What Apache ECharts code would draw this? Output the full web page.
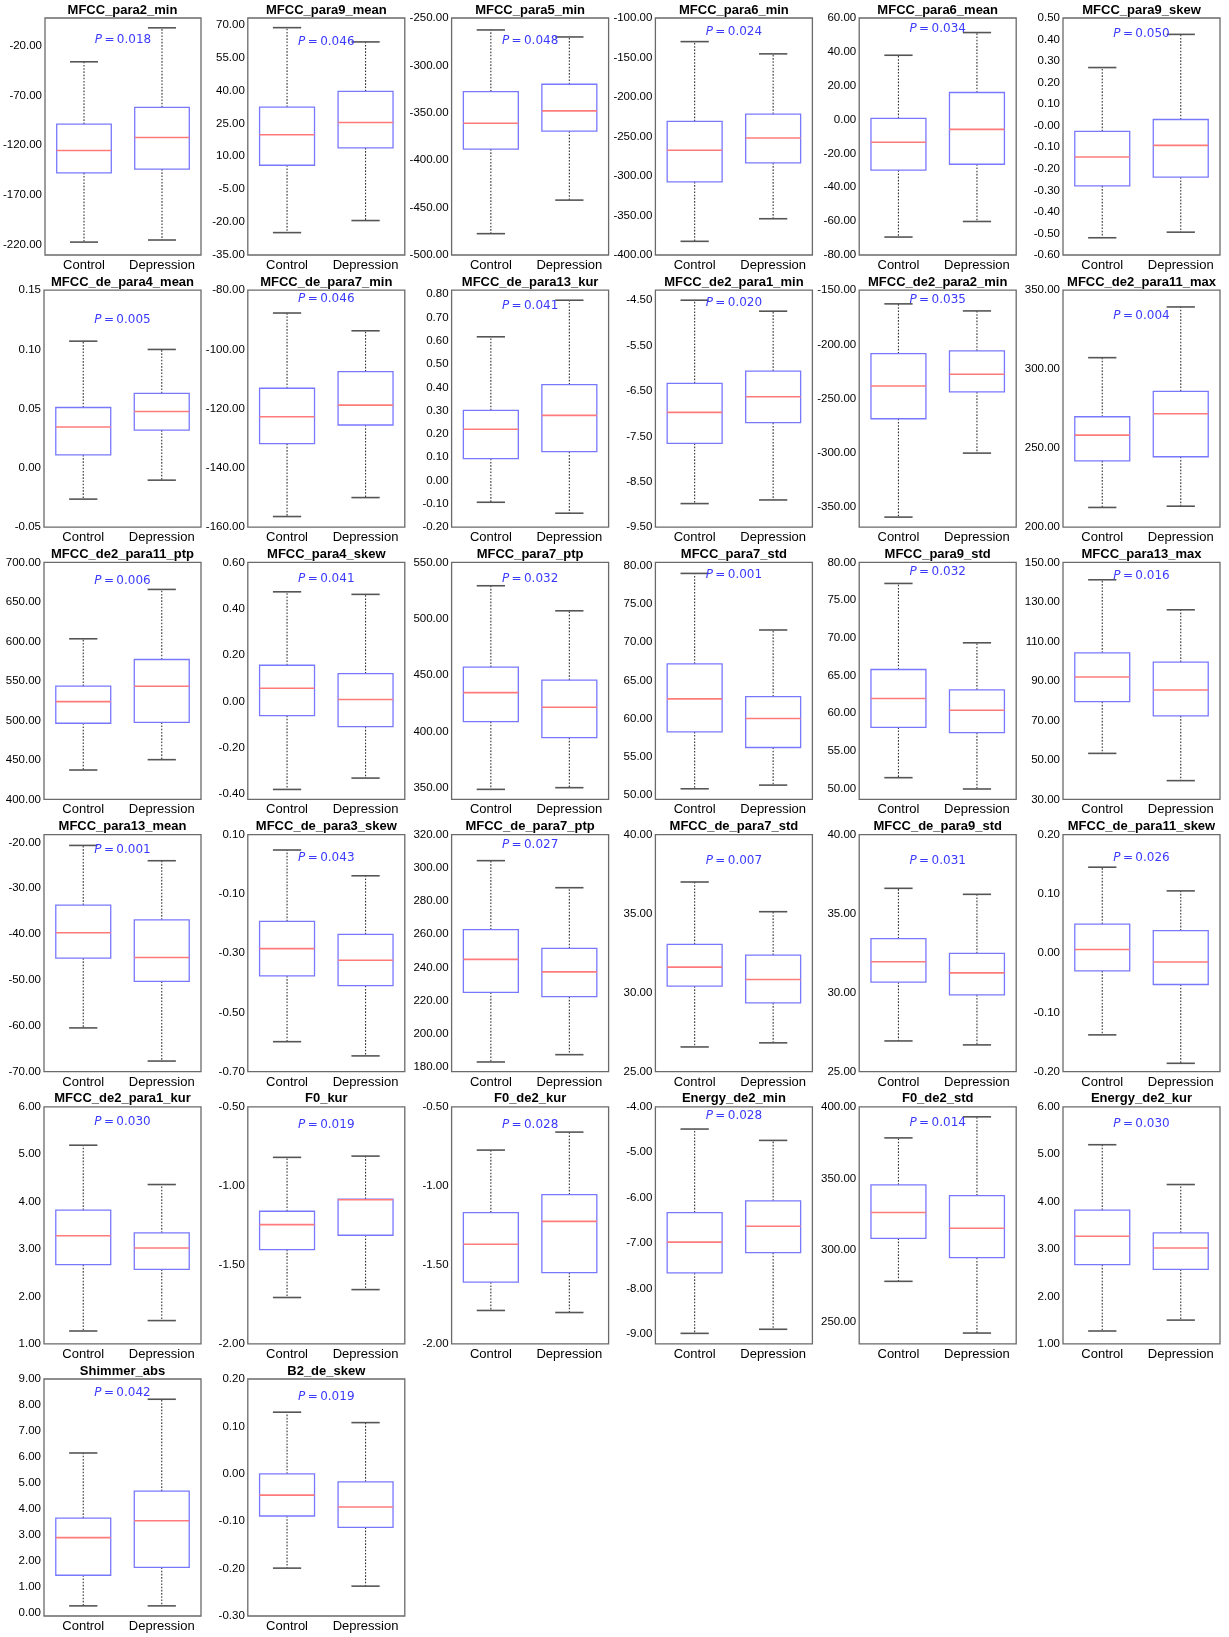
<!DOCTYPE html>
<html>
<head>
<meta charset="utf-8">
<script src="https://cdn.jsdelivr.net/npm/echarts@6/dist/echarts.min.js"></script>
<style>
  html, body { margin: 0; padding: 0; background: #fff; }
  #container { width: 1229px; height: 1637px; }
</style>
</head>
<body>
<div id="container"></div>
<script>
const categories = ['Control', 'Depression'];

const titles = [
  'MFCC_para2_min', 'MFCC_para9_mean', 'MFCC_para5_min', 'MFCC_para6_min', 'MFCC_para6_mean', 'MFCC_para9_skew',
  'MFCC_de_para4_mean', 'MFCC_de_para7_min', 'MFCC_de_para13_kur', 'MFCC_de2_para1_min', 'MFCC_de2_para2_min', 'MFCC_de2_para11_max',
  'MFCC_de2_para11_ptp', 'MFCC_para4_skew', 'MFCC_para7_ptp', 'MFCC_para7_std', 'MFCC_para9_std', 'MFCC_para13_max',
  'MFCC_para13_mean', 'MFCC_de_para3_skew', 'MFCC_de_para7_ptp', 'MFCC_de_para7_std', 'MFCC_de_para9_std', 'MFCC_de_para11_skew',
  'MFCC_de2_para1_kur', 'F0_kur', 'F0_de2_kur', 'Energy_de2_min', 'F0_de2_std', 'Energy_de2_kur',
  'Shimmer_abs', 'B2_de_skew'
];

const pValues = [
  '0.018', '0.046', '0.048', '0.024', '0.034', '0.050',
  '0.005', '0.046', '0.041', '0.020', '0.035', '0.004',
  '0.006', '0.041', '0.032', '0.001', '0.032', '0.016',
  '0.001', '0.043', '0.027', '0.007', '0.031', '0.026',
  '0.030', '0.019', '0.028', '0.028', '0.014', '0.030',
  '0.042', '0.019'
];

// where the P annotation sits, in data units of each panel
const pLabelY = [
  -14, 62, -274, -118, 53.5, 0.426,
  0.125, -82.9, 0.748, -4.57, -159.2, 333.9,
  676, 0.527, 535.5, 78.8, 78.8, 143.2,
  -21.7, 0.021, 313.8, 38.35, 38.35, 0.160,
  5.68, -0.612, -0.612, -4.21, 389.1, 5.63,
  8.45, 0.163
];

const yMin = [
  -230.7, -35, -500, -400, -80, -0.6,
  -0.05, -160, -0.2, -9.5, -368.5, 200,
  400, -0.423, 339.9, 49.44, 48.58, 30,
  -70, -0.7, 177.2, 25, 25, -0.2,
  1, -2, -2, -9.22, 234.6, 1,
  -0.13, -0.3
];

const yMax = [
  8, 73, -250, -100, 60, 0.5,
  0.15, -80, 0.817, -4.28, -150, 350,
  700, 0.6, 550, 80.44, 80, 150,
  -18.3, 0.1, 320, 40, 40, 0.2,
  6, -0.5, -0.5, -4, 400, 6,
  9, 0.2
];

const yTicks = [
  [-220, -170, -120, -70, -20],
  [-35, -20, -5, 10, 25, 40, 55, 70],
  [-500, -450, -400, -350, -300, -250],
  [-400, -350, -300, -250, -200, -150, -100],
  [-80, -60, -40, -20, 0, 20, 40, 60],
  [-0.6, -0.5, -0.4, -0.3, -0.2, -0.1, 0, 0.1, 0.2, 0.3, 0.4, 0.5],
  [-0.05, 0, 0.05, 0.1, 0.15],
  [-160, -140, -120, -100, -80],
  [-0.2, -0.1, 0, 0.1, 0.2, 0.3, 0.4, 0.5, 0.6, 0.7, 0.8],
  [-9.5, -8.5, -7.5, -6.5, -5.5, -4.5],
  [-350, -300, -250, -200, -150],
  [200, 250, 300, 350],
  [400, 450, 500, 550, 600, 650, 700],
  [-0.4, -0.2, 0, 0.2, 0.4, 0.6],
  [350, 400, 450, 500, 550],
  [50, 55, 60, 65, 70, 75, 80],
  [50, 55, 60, 65, 70, 75, 80],
  [30, 50, 70, 90, 110, 130, 150],
  [-70, -60, -50, -40, -30, -20],
  [-0.7, -0.5, -0.3, -0.1, 0.1],
  [180, 200, 220, 240, 260, 280, 300, 320],
  [25, 30, 35, 40],
  [25, 30, 35, 40],
  [-0.2, -0.1, 0, 0.1, 0.2],
  [1, 2, 3, 4, 5, 6],
  [-2, -1.5, -1, -0.5],
  [-2, -1.5, -1, -0.5],
  [-9, -8, -7, -6, -5, -4],
  [250, 300, 350, 400],
  [1, 2, 3, 4, 5, 6],
  [0, 1, 2, 3, 4, 5, 6, 7, 8, 9],
  [-0.3, -0.2, -0.1, 0, 0.1, 0.2]
];

// the zero tick of this panel is printed as "-0.00" in the source
const minusZeroPanels = ['MFCC_para9_skew'];

// [lower whisker, Q1, median, Q3, upper whisker]
const controlBoxes = [
  [-217.7, -147.9, -125.4, -98.9, -36.1],
  [-24.8, 5.9, 19.8, 32.4, 68.6],
  [-477.5, -388.3, -361.0, -327.6, -262.6],
  [-382.7, -307.4, -267.4, -230.8, -129.9],
  [-69.4, -29.9, -13.4, 0.7, 38.0],
  [-0.520, -0.279, -0.145, -0.026, 0.270],
  [-0.0263, 0.011, 0.0345, 0.051, 0.107],
  [-156.4, -131.8, -122.7, -113.1, -87.7],
  [-0.093, 0.094, 0.220, 0.301, 0.617],
  [-8.98, -7.653, -6.971, -6.333, -4.50],
  [-359.2, -268.5, -238.3, -208.5, -162.6],
  [212.5, 242.0, 258.3, 269.9, 307.3],
  [437.2, 496.4, 523.8, 543.3, 603.3],
  [-0.380, -0.061, 0.057, 0.156, 0.473],
  [348.8, 408.9, 434.6, 457.1, 529.3],
  [50.83, 58.28, 62.59, 67.16, 79.0],
  [51.46, 58.14, 61.95, 65.80, 77.21],
  [53.3, 79.5, 92.0, 104.2, 141.2],
  [-60.47, -45.25, -39.72, -33.68, -20.66],
  [-0.599, -0.377, -0.285, -0.193, 0.048],
  [183.0, 224.9, 244.8, 262.7, 304.3],
  [26.56, 30.41, 31.61, 33.05, 37.0],
  [26.94, 30.66, 31.95, 33.41, 36.60],
  [-0.138, -0.030, 0.006, 0.049, 0.145],
  [1.27, 2.67, 3.28, 3.82, 5.19],
  [-1.707, -1.404, -1.246, -1.161, -0.820],
  [-1.789, -1.610, -1.370, -1.170, -0.774],
  [-8.99, -7.66, -6.98, -6.33, -4.49],
  [278.2, 308.2, 326.2, 345.5, 378.3],
  [1.27, 2.67, 3.27, 3.82, 5.20],
  [0.26, 1.44, 2.89, 3.64, 6.15],
  [-0.199, -0.089, -0.045, 0.0, 0.130]
];

const depressionBoxes = [
  [-215.6, -144.2, -112.3, -82.1, -1.9],
  [-19.3, 13.8, 25.4, 39.6, 62.1],
  [-442.1, -369.4, -348.0, -319.9, -270.0],
  [-354.1, -283.4, -251.9, -221.6, -145.4],
  [-60.2, -26.4, -5.8, 16.0, 51.4],
  [-0.494, -0.239, -0.091, 0.029, 0.424],
  [-0.0103, 0.032, 0.0477, 0.063, 0.100],
  [-150.0, -125.5, -118.8, -107.5, -93.7],
  [-0.140, 0.124, 0.280, 0.412, 0.774],
  [-8.90, -7.198, -6.627, -6.062, -4.742],
  [-300.2, -243.8, -227.5, -206.0, -169.1],
  [213.3, 244.6, 271.8, 286.0, 339.4],
  [450.3, 497.6, 543.3, 577.1, 665.8],
  [-0.331, -0.109, 0.008, 0.120, 0.462],
  [350.3, 394.7, 421.6, 445.6, 507.1],
  [51.31, 56.23, 60.02, 62.89, 71.60],
  [49.96, 57.43, 60.40, 63.10, 69.34],
  [39.5, 72.3, 85.4, 99.5, 126.0],
  [-67.7, -50.3, -45.1, -36.9, -24.0],
  [-0.647, -0.410, -0.324, -0.237, -0.039],
  [187.4, 222.4, 237.3, 251.4, 288.0],
  [26.82, 29.35, 30.83, 32.37, 35.12],
  [26.69, 29.86, 31.25, 32.48, 36.22],
  [-0.186, -0.053, -0.015, 0.038, 0.105],
  [1.49, 2.57, 3.02, 3.34, 4.36],
  [-1.657, -1.313, -1.088, -1.084, -0.812],
  [-1.802, -1.549, -1.225, -1.056, -0.660],
  [-8.90, -7.21, -6.63, -6.07, -4.74],
  [242.1, 294.7, 315.2, 338.0, 393.0],
  [1.50, 2.57, 3.02, 3.34, 4.36],
  [0.26, 1.74, 3.54, 4.68, 8.22],
  [-0.237, -0.113, -0.070, -0.017, 0.108]
];

// panel grid (pixels)
const COLS = 6;
const LEFT0 = 44, COL_STEP = 203.8;
const TOP0 = 18, ROW_STEP = 272.2;
const PLOT_W = 157, PLOT_H = 237;
const FONT = '"Liberation Sans", Arial, sans-serif';

const BOX_COLOR = '#7878ff';
const MEDIAN_COLOR = '#ff7b7b';
const WHISKER_COLOR = '#333';
const CAP_COLOR = '#555';
const P_COLOR = '#3a3aff';

const dom = document.getElementById('container');
const myChart = echarts.init(dom, null, { renderer: 'canvas' });

const renderBox = (params, api) => {
  const idx = api.value(0);
  const low = api.value(1), q1 = api.value(2), med = api.value(3), q3 = api.value(4), high = api.value(5);
  const cx = api.coord([idx, med])[0];
  const band = api.size([1, 0])[0];
  const half = band * 0.35;
  const cap = band * 0.18;
  const y = v => api.coord([idx, v])[1];

  const dotted = { stroke: WHISKER_COLOR, lineWidth: 1.1, lineDash: [1.6, 1.6] };
  const solidCap = { stroke: CAP_COLOR, lineWidth: 1.6 };

  return {
    type: 'group',
    children: [
      { type: 'line', shape: { x1: cx, y1: y(q3), x2: cx, y2: y(high) }, style: dotted },
      { type: 'line', shape: { x1: cx, y1: y(q1), x2: cx, y2: y(low) }, style: dotted },
      { type: 'line', shape: { x1: cx - cap, y1: y(high), x2: cx + cap, y2: y(high) }, style: solidCap },
      { type: 'line', shape: { x1: cx - cap, y1: y(low), x2: cx + cap, y2: y(low) }, style: solidCap },
      {
        type: 'rect',
        shape: { x: cx - half, y: y(q3), width: half * 2, height: y(q1) - y(q3) },
        style: { fill: 'none', stroke: BOX_COLOR, lineWidth: 1.3 }
      },
      {
        type: 'line',
        shape: { x1: cx - half, y1: y(med), x2: cx + half, y2: y(med) },
        style: { stroke: MEDIAN_COLOR, lineWidth: 1.6 }
      }
    ]
  };
};

const makePLabel = p => (params, api) => {
  const v = api.value(1);
  const a = api.coord([0, v]);
  const b = api.coord([1, v]);
  return {
    type: 'text',
    x: (a[0] + b[0]) / 2,
    y: a[1],
    style: {
      text: '{i|P}{t|\u2009=\u2009' + p + '}',
      align: 'center',
      verticalAlign: 'middle',
      rich: {
        i: { fontStyle: 'italic', fontSize: 12, fontFamily: '"DejaVu Sans", sans-serif', fill: P_COLOR },
        t: { fontSize: 12, fontFamily: '"DejaVu Sans", sans-serif', fill: P_COLOR }
      }
    }
  };
};

const grids = [];
const xAxes = [];
const yAxes = [];
const series = [];
const graphics = [];

titles.forEach((name, i) => {
  const col = i % COLS;
  const row = Math.floor(i / COLS);
  const left = LEFT0 + col * COL_STEP;
  const top = TOP0 + row * ROW_STEP;

  grids.push({
    left: left, top: top, width: PLOT_W, height: PLOT_H,
    show: true, borderColor: '#6a6a6a', borderWidth: 1.3, backgroundColor: 'transparent'
  });

  xAxes.push({
    type: 'category',
    gridIndex: i,
    data: categories,
    boundaryGap: true,
    axisLine: { show: false },
    axisTick: { show: false },
    splitLine: { show: false },
    axisLabel: { color: '#000', fontSize: 13, fontFamily: FONT, margin: 4, interval: 0 }
  });

  const minusZero = minusZeroPanels.includes(name);
  yAxes.push({
    type: 'value',
    gridIndex: i,
    min: yMin[i],
    max: yMax[i],
    axisLine: { show: false },
    axisTick: { show: false, customValues: yTicks[i] },
    splitLine: { show: false },
    axisLabel: {
      customValues: yTicks[i],
      color: '#000',
      fontSize: 11.5,
      fontFamily: FONT,
      margin: 3,
      formatter: v => (minusZero && Math.abs(v) < 1e-12) ? '-0.00' : Number(v).toFixed(2)
    }
  });

  series.push({
    type: 'custom',
    xAxisIndex: i,
    yAxisIndex: i,
    renderItem: renderBox,
    encode: { x: 0, y: [1, 2, 3, 4, 5] },
    data: [
      [0].concat(controlBoxes[i]),
      [1].concat(depressionBoxes[i])
    ],
    silent: true
  });

  series.push({
    type: 'custom',
    xAxisIndex: i,
    yAxisIndex: i,
    renderItem: makePLabel(pValues[i]),
    data: [[0, pLabelY[i]]],
    silent: true
  });

  graphics.push({
    type: 'text',
    x: left + PLOT_W / 2,
    y: top - 1.5,
    style: {
      text: name,
      align: 'center',
      verticalAlign: 'bottom',
      textAlign: 'center',
      textVerticalAlign: 'bottom',
      fontSize: 13,
      fontWeight: 'bold',
      fontFamily: FONT,
      fill: '#000'
    }
  });
});

const option = {
  animation: false,
  backgroundColor: '#fff',
  grid: grids,
  xAxis: xAxes,
  yAxis: yAxes,
  series: series,
  graphic: graphics
};

myChart.setOption(option, true);
</script>
</body>
</html>
